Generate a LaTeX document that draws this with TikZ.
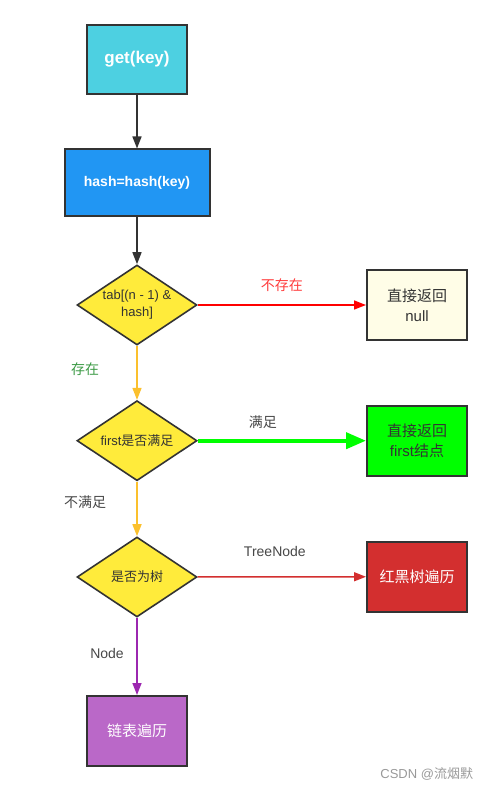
\documentclass[tikz,border=0pt]{standalone}
\usepackage{fontspec}
\setmainfont{Noto Sans CJK SC}
\newfontfamily\latinfont{Liberation Sans}
\usetikzlibrary{positioning,arrows.meta,shapes}

\definecolor{cyanbox}{HTML}{4DD0E1}
\definecolor{bluebox}{HTML}{2196F3}
\definecolor{yellowdia}{HTML}{FFEB3B}
\definecolor{ivorybox}{HTML}{FFFDE7}
\definecolor{greenbox}{HTML}{00FF00}
\definecolor{redbox}{HTML}{D32F2F}
\definecolor{purplebox}{HTML}{BA68C8}
\definecolor{purpleline}{HTML}{9C27B0}
\definecolor{orangeline}{HTML}{FBC02D}
\definecolor{darkline}{HTML}{333333}
\definecolor{labelgreen}{HTML}{3C9A45}
\definecolor{labelred}{HTML}{FF3B3B}

\begin{document}
\begin{tikzpicture}[x=1pt,y=-1pt]
	\tikzset{box/.style={draw=darkline,line width=2pt,rectangle,minimum width=100pt,minimum height=70pt,inner sep=2pt,align=center,font=\fontsize{15}{20}\selectfont},
		decision/.style={draw=darkline,line width=1.6pt,diamond,fill=yellowdia,minimum width=120pt,minimum height=80pt,inner sep=0pt,shape aspect=1.5,align=center,font=\fontsize{13}{17}\selectfont,text=darkline},
		lbl/.style={font=\fontsize{14}{16}\selectfont,text=darkline!90},
		flow/.style={-{Triangle[length=12pt,width=9pt]},line width=1.5pt}}
	\useasboundingbox (0,0) rectangle (492,791);
	\node[box,fill=cyanbox,text=white,minimum height=69pt,font=\fontsize{17}{20}\selectfont\latinfont\bfseries] (getkey) at (137,59.5) {get(key)};
	\node[box,fill=bluebox,text=white,minimum width=145pt,minimum height=67pt,font=\fontsize{14}{16}\selectfont\latinfont\bfseries] (hashkey) at (137,183) {hash=hash(key)};
	\node[decision] (tab) at (137,305) {{\latinfont tab[(n - 1) \&}\\{\latinfont hash]}};
	\node[decision] (first) at (137,440.7) {{\latinfont first}是否满足};
	\node[decision] (tree) at (137,577) {是否为树};
	\node[box,fill=ivorybox,text=darkline] (nullret) at (417,305) {直接返回\\{\latinfont null}};
	\node[box,fill=greenbox,text=darkline] (firstret) at (417,440.7) {直接返回\\{\latinfont first}结点};
	\node[box,fill=redbox,text=white] (rbtree) at (417,576.7) {红黑树遍历};
	\node[box,fill=purplebox,text=white] (linked) at (137,731) {链表遍历};
	\path[flow]
		(getkey) edge [draw=darkline] (hashkey)
		(hashkey) edge [draw=darkline] (tab)
		(tab) edge [draw=red] node [lbl,text=labelred,yshift=20pt] {不存在} (nullret)
		(tab) edge [draw=orangeline] node [lbl,text=labelgreen,xshift=-52pt,yshift=4pt] {存在} (first)
		(first) edge [draw=greenbox,line width=4pt,-{Triangle[length=20pt,width=16pt]}] node [lbl,xshift=-19pt,yshift=19pt] {满足} (firstret)
		(first) edge [draw=orangeline] node [lbl,xshift=-52pt,yshift=7pt] {不满足} (tree)
		(tree) edge [draw=redbox] node [lbl,font=\fontsize{14}{16}\selectfont\latinfont,xshift=-7pt,yshift=25pt] {TreeNode} (rbtree)
		(tree) edge [draw=purpleline] node [lbl,font=\fontsize{14}{16}\selectfont\latinfont,xshift=-30pt,yshift=3pt] {Node} (linked);
	\node[font=\fontsize{13}{16}\selectfont,text=black!40] (mark) at (426.7,774) {{\latinfont CSDN @}流烟默};
\end{tikzpicture}
\end{document}
